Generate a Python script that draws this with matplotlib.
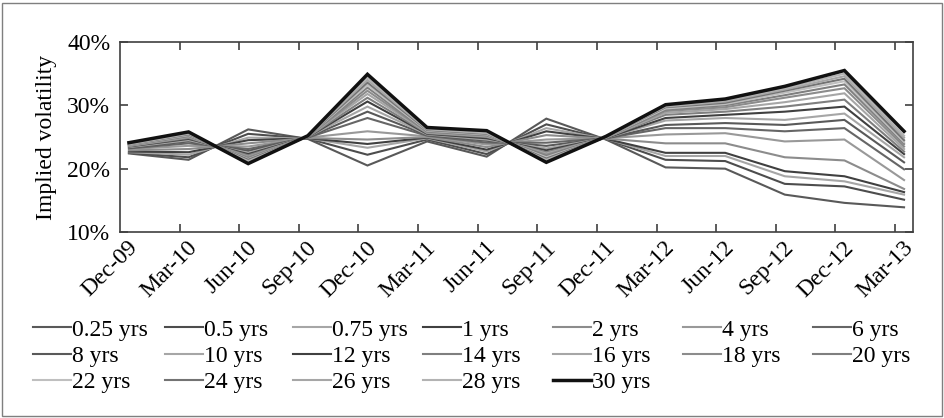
import matplotlib
matplotlib.use("Agg")
import matplotlib.pyplot as plt
import matplotlib.transforms as mtransforms
from matplotlib.patches import Rectangle
from matplotlib.ticker import FuncFormatter

plt.rcParams['font.family'] = ['Liberation Serif', 'DejaVu Serif']
FS = 17

# data (implied vol, %)
dates = ['Dec-09', 'Mar-10', 'Jun-10', 'Sep-10', 'Dec-10', 'Mar-11', 'Jun-11',
         'Sep-11', 'Dec-11', 'Mar-12', 'Jun-12', 'Sep-12', 'Dec-12', 'Mar-13']
labels = ['0.25 yrs', '0.5 yrs', '0.75 yrs', '1 yrs', '2 yrs', '4 yrs', '6 yrs',
          '8 yrs', '10 yrs', '12 yrs', '14 yrs', '16 yrs', '18 yrs', '20 yrs',
          '22 yrs', '24 yrs', '26 yrs', '28 yrs', '30 yrs']

m025 = [22.4, 21.4, 26.2, 24.7, 20.5, 24.3, 21.9, 27.9, 24.6, 20.2, 20.0, 15.9, 14.6, 13.9]
m05 = [22.5, 21.8, 25.5, 24.75, 22.2, 24.6, 22.3, 27.0, 24.65, 21.4, 21.2, 17.6, 17.2, 15.1]
m075 = [22.6, 22.2, 24.9, 24.8, 23.3, 24.8, 22.7, 26.4, 24.7, 22.0, 22.0, 18.8, 18.0, 15.9]
m1 = [22.7, 22.6, 24.5, 24.8, 23.9, 24.9, 23.0, 25.9, 24.7, 22.5, 22.5, 19.6, 18.8, 16.3]
m2 = [22.9, 23.1, 24.0, 24.85, 24.6, 25.0, 23.4, 25.3, 24.75, 24.0, 24.0, 21.8, 21.3, 16.8]
m4 = [23.1, 23.6, 23.5, 24.9, 25.9, 25.1, 23.8, 24.6, 24.8, 25.4, 25.6, 24.3, 24.6, 18.2]
m6 = [23.2, 24.0, 23.1, 24.9, 28.0, 25.2, 24.1, 24.1, 24.8, 26.4, 26.4, 25.9, 26.4, 19.9]
m8 = [23.3, 24.3, 22.8, 24.95, 29.0, 25.3, 24.4, 23.6, 24.8, 26.9, 27.2, 26.9, 27.7, 21.0]
m10 = [23.4, 24.5, 22.5, 25.0, 29.8, 25.4, 24.6, 23.2, 24.85, 27.6, 28.0, 27.7, 28.7, 21.8]
m12 = [23.5, 24.7, 22.3, 25.0, 30.6, 25.5, 24.8, 22.9, 24.85, 28.0, 28.5, 29.0, 29.8, 22.3]
m14 = [23.55, 24.85, 22.1, 25.0, 31.2, 25.6, 25.0, 22.6, 24.9, 28.5, 29.0, 29.8, 30.9, 22.7]
m16 = [23.6, 25.0, 21.9, 25.05, 31.8, 25.7, 25.1, 22.4, 24.9, 28.8, 29.4, 30.5, 31.9, 23.1]
m18 = [23.65, 25.1, 21.8, 25.05, 32.3, 25.8, 25.2, 22.2, 24.9, 29.1, 29.7, 31.2, 32.7, 23.5]
m20 = [23.7, 25.2, 21.6, 25.1, 32.8, 25.9, 25.3, 22.0, 24.95, 29.3, 30.0, 31.6, 33.3, 23.9]
m22 = [23.75, 25.3, 21.5, 25.1, 33.2, 26.0, 25.4, 21.8, 24.95, 29.5, 30.2, 32.0, 33.8, 24.2]
m24 = [23.8, 25.4, 21.4, 25.1, 33.6, 26.1, 25.5, 21.6, 25.0, 29.7, 30.4, 32.3, 34.2, 24.5]
m26 = [23.85, 25.5, 21.2, 25.1, 34.0, 26.2, 25.6, 21.4, 25.0, 29.8, 30.6, 32.5, 34.6, 24.9]
m28 = [23.9, 25.6, 21.1, 25.15, 34.4, 26.3, 25.7, 21.3, 25.0, 29.9, 30.8, 32.7, 35.0, 25.2]
m30 = [24.1, 25.8, 20.8, 25.2, 34.9, 26.5, 26.0, 21.0, 25.1, 30.1, 31.0, 33.0, 35.5, 25.9]

series = [m025, m05, m075, m1, m2, m4, m6, m8, m10, m12, m14, m16, m18, m20,
          m22, m24, m26, m28, m30]
colors = ['#595959', '#4d4d4d', '#a6a6a6', '#404040', '#8c8c8c', '#999999', '#666666',
          '#595959', '#a6a6a6', '#404040', '#7f7f7f', '#a6a6a6', '#8c8c8c', '#7f7f7f',
          '#bfbfbf', '#737373', '#a6a6a6', '#b3b3b3', '#111111']

fig = plt.figure(figsize=(9.44, 4.18), dpi=100)
ax = fig.add_axes([120 / 944, 1 - 232 / 418, 793 / 944, 190 / 418])

x = list(range(len(dates)))
handles = []
for vals, lab, c in zip(series, labels, colors):
    lw = 2.5 if lab == '30 yrs' else 1.5
    h, = ax.plot(x, vals, color=c, lw=lw, label=lab, solid_joinstyle='miter')
    handles.append(h)

ax.set_xlim(-0.15, len(dates) - 1 + 0.15)
ax.set_ylim(10, 40)
ax.set_yticks([10, 20, 30, 40])
ax.yaxis.set_major_formatter(FuncFormatter(lambda v, p: '%d%%' % v))
ax.set_ylabel('Implied volatility', fontsize=FS, labelpad=7)

ax.set_xticks(x)
ax.set_xticklabels(dates, rotation=45, ha='right', va='center',
                   rotation_mode='anchor', fontsize=FS)
ax.set_xticks([i + 0.85 for i in range(len(dates) - 1)], minor=True)
ax.tick_params(axis='x', which='major', length=0, pad=9)
ax.tick_params(axis='x', which='minor', direction='in', length=6, width=1.2,
               top=True, bottom=True, color='#404040')
ax.tick_params(axis='y', direction='in', length=6, width=1.2, right=True,
               labelsize=FS, color='#404040', pad=7)
shift = mtransforms.ScaledTranslation(6 / 100, 0, fig.dpi_scale_trans)
for t in ax.get_xticklabels():
    t.set_transform(t.get_transform() + shift)

for s in ax.spines.values():
    s.set_color('#404040')
    s.set_linewidth(1.2)

# legend: seven evenly spaced columns
col_x = [33, 165, 293, 423, 553, 683, 813]
for c, cx in enumerate(col_x):
    hs = handles[c::7]
    fig.legend(hs, [h.get_label() for h in hs], loc='upper left',
               bbox_to_anchor=(cx / 944, 1 - 319 / 418), frameon=False,
               fontsize=FS, handlelength=1.6, handletextpad=0.05,
               labelspacing=0.2, borderpad=0, borderaxespad=0)

fig.add_artist(Rectangle((2 / 944, 2 / 418), 940 / 944, 413 / 418,
                         transform=fig.transFigure, fill=False,
                         edgecolor='#7f7f7f', lw=1))

fig.savefig('out.png', dpi=100)
